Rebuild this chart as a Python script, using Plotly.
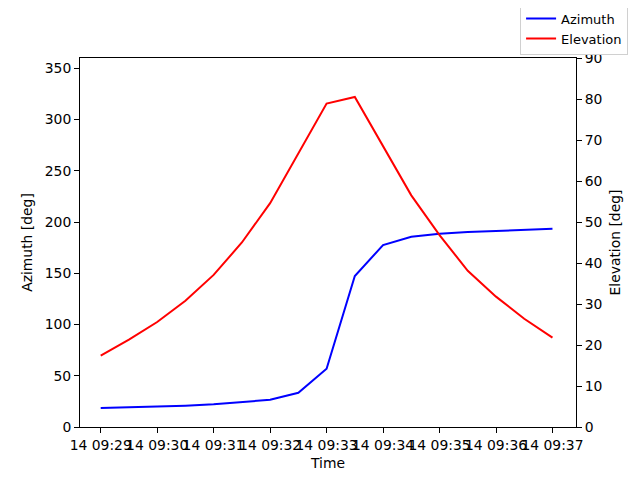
import pandas as pd
import plotly.graph_objects as go

# samples every 30 s during the pass
times = pd.date_range("2024-01-14 09:29:00", "2024-01-14 09:37:00", freq="30s")
azimuth = [18.5, 19.1, 19.8, 20.8, 22.1, 24.0, 26.6, 33.4, 56.8, 147.3,
           177.5, 185.6, 188.5, 190.2, 191.5, 192.5, 193.4]
elevation = [17.4, 21.3, 25.6, 30.8, 37.1, 45.0, 54.6, 66.6, 78.9, 80.5,
             68.5, 56.5, 46.8, 38.1, 31.8, 26.4, 21.8]

tick_times = pd.date_range("2024-01-14 09:29:00", "2024-01-14 09:37:00", freq="1min")
tick_text = [t.strftime("%d %H:%M") for t in tick_times]

fig = go.Figure()
fig.add_trace(go.Scatter(x=times, y=azimuth, name="Azimuth", mode="lines",
                         line=dict(color="blue", width=2)))
fig.add_trace(go.Scatter(x=times, y=elevation, name="Elevation", mode="lines",
                         line=dict(color="red", width=2), yaxis="y2"))

axis_style = dict(showline=True, linecolor="black", linewidth=1, ticks="outside",
                  ticklen=5, tickcolor="black", showgrid=False, zeroline=False,
                  automargin=False, tickfont=dict(size=13.9))

# page body adds an 8px offset, so the figure is drawn 8px smaller
fig.update_layout(
    width=632, height=472,
    margin=dict(l=72, r=64, t=50, b=53, autoexpand=False),
    paper_bgcolor="white", plot_bgcolor="white",
    font=dict(family="DejaVu Sans", size=13.9, color="black"),
    showlegend=True,
    legend=dict(x=1.105, y=1.15, xanchor="right", yanchor="top",
                bordercolor="#d0d0d0", borderwidth=1, bgcolor="white",
                font=dict(size=13), tracegroupgap=0, itemwidth=30),
    xaxis=dict(axis_style, mirror=True,
               range=[pd.Timestamp("2024-01-14 09:28:38"), pd.Timestamp("2024-01-14 09:37:25")],
               tickvals=tick_times, ticktext=tick_text, tickangle=0,
               title=dict(text="Time", standoff=6, font=dict(size=13.9))),
    yaxis=dict(axis_style, range=[0, 360], tickvals=list(range(0, 351, 50)),
               title=dict(text="Azimuth [deg]", standoff=8, font=dict(size=13.9))),
    yaxis2=dict(axis_style, overlaying="y", side="right", range=[0, 90],
                tickvals=list(range(0, 91, 10)),
                title=dict(text="Elevation [deg]", standoff=8, font=dict(size=13.9))),
)

fig.write_html("out.html")
